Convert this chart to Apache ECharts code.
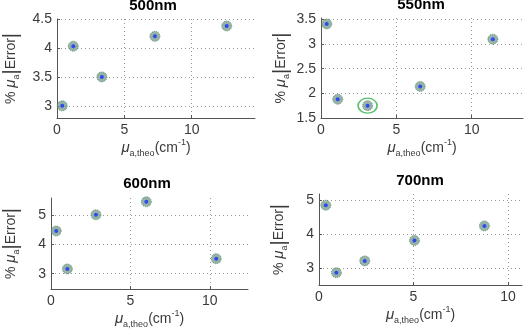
<!DOCTYPE html>
<html>
<head>
<meta charset="utf-8">
<script src="https://cdn.jsdelivr.net/npm/echarts@6/dist/echarts.min.js"></script>
<style>
  html, body { margin: 0; padding: 0; background: #fff; }
  #chart { width: 525px; height: 333px; }
</style>
</head>
<body>
<div id="chart"></div>
<script>
// panel titles
const titles = ['500nm', '550nm', '600nm', '700nm'];

// mu_a,theo (cm^-1) and % error, one pair of arrays per wavelength
const x500 = [0.39, 1.21, 3.33, 7.27, 12.6];
const y500 = [3.0, 4.03, 3.5, 4.2, 4.38];
const x550 = [0.38, 1.11, 3.09, 6.58, 11.4];
const y550 = [3.41, 1.88, 1.75, 2.14, 3.1];
const x600 = [0.33, 1.03, 2.83, 6.0, 10.4];
const y600 = [4.45, 3.16, 5.0, 5.44, 3.51];
const x700 = [0.36, 0.92, 2.42, 5.05, 8.75];
const y700 = [4.85, 2.86, 3.21, 3.81, 4.24];

// circled point in the 550nm panel
const circled550 = [[3.09, 1.75]];

// axis ranges and tick labels
const xMax = [14.7, 13.4, 12.4, 10.74];
const yMin = [2.79, 1.5, 2.48, 2.5];
const yMax = [4.5, 3.53, 5.57, 5.18];
const xTicks = [[0, 5, 10], [0, 5, 10], [0, 5, 10], [0, 5, 10]];
const yTicks = [[3, 3.5, 4, 4.5], [1.5, 2, 2.5, 3, 3.5], [3, 4, 5], [3, 4, 5]];

const xs = [x500, x550, x600, x700];
const ys = [y500, y550, y600, y700];

const grids = [
  { left: 52, top: 19, width: 203, height: 99 },
  { left: 321, top: 18, width: 202, height: 100 },
  { left: 46, top: 198, width: 202, height: 91 },
  { left: 319, top: 194, width: 203, height: 91 },
];
const titlePos = [[153, -2], [421, -3], [147, 176], [420, 173]];

const font = 'Liberation Sans, Arial, sans-serif';
const axisColor = '#555';
const textColor = '#3a3a3a';

const yName = '{t|% }{mu|μ}{sub|a}{bar||}{t|Error}{bar||}';
const xName = '{mu|μ}{sub|a,theo}{t|(cm}{sup|-1}{t|)}';
const nameRich = {
  t: { fontSize: 14, color: textColor, fontFamily: font, lineHeight: 20, verticalAlign: 'middle' },
  mu: { fontSize: 15, fontStyle: 'italic', color: textColor, fontFamily: font, lineHeight: 20, verticalAlign: 'middle' },
  sub: { fontSize: 9, color: textColor, fontFamily: font, lineHeight: 20, verticalAlign: 'bottom' },
  sup: { fontSize: 9, color: textColor, fontFamily: font, lineHeight: 20, verticalAlign: 'top' },
  bar: { fontSize: 20, color: textColor, fontFamily: font, lineHeight: 20, verticalAlign: 'middle' },
};

const gridLine = { show: true, lineStyle: { color: '#999', type: [1, 3], width: 1 } };

const option = {
  animation: false,
  title: titles.map((t, i) => ({
    text: t,
    left: titlePos[i][0],
    top: titlePos[i][1],
    textAlign: 'center',
    padding: 0,
    textStyle: { fontSize: 15, fontWeight: 'bold', color: '#000', fontFamily: font },
  })),
  grid: grids,
  xAxis: grids.map((g, i) => ({
    gridIndex: i,
    type: 'value',
    min: 0,
    max: xMax[i],
    name: xName,
    nameLocation: 'middle',
    nameGap: 20,
    nameTextStyle: { rich: nameRich, verticalAlign: 'top' },
    axisLine: { show: true, lineStyle: { color: axisColor, width: 1 } },
    axisTick: { show: true, inside: true, length: 3, customValues: xTicks[i], lineStyle: { color: axisColor } },
    axisLabel: { fontSize: 14, color: textColor, fontFamily: font, margin: 5, customValues: xTicks[i] },
    splitLine: gridLine,
  })),
  yAxis: grids.map((g, i) => ({
    gridIndex: i,
    type: 'value',
    min: yMin[i],
    max: yMax[i],
    name: yName,
    nameLocation: 'middle',
    nameRotate: 90,
    nameGap: i === 0 ? 36 : 30,
    nameTextStyle: { rich: nameRich },
    axisLine: { show: true, lineStyle: { color: axisColor, width: 1 } },
    axisTick: { show: true, inside: true, length: 3, customValues: yTicks[i], lineStyle: { color: axisColor } },
    axisLabel: { fontSize: 14, color: textColor, fontFamily: font, margin: 5, customValues: yTicks[i] },
    splitLine: gridLine,
  })),
  series: [],
};

xs.forEach((xv, i) => {
  const pts = xv.map((x, k) => [x, ys[i][k]]);
  option.series.push({
    type: 'scatter',
    xAxisIndex: i,
    yAxisIndex: i,
    data: pts,
    symbol: 'circle',
    symbolSize: 10,
    itemStyle: { color: '#7f9f92', borderColor: '#3c8a58', borderWidth: 1, borderType: 'dotted' },
    z: 3,
  });
  option.series.push({
    type: 'scatter',
    xAxisIndex: i,
    yAxisIndex: i,
    data: pts,
    symbol: 'circle',
    symbolSize: 4,
    itemStyle: { color: '#1432ff' },
    z: 4,
  });
});

option.series.push({
  type: 'scatter',
  xAxisIndex: 1,
  yAxisIndex: 1,
  data: circled550,
  symbol: 'circle',
  symbolSize: [19, 15],
  itemStyle: { color: 'rgba(0,0,0,0)', borderColor: '#2fb24c', borderWidth: 1.5 },
  z: 5,
});

const chart = echarts.init(document.getElementById('chart'));
chart.setOption(option);
</script>
</body>
</html>
